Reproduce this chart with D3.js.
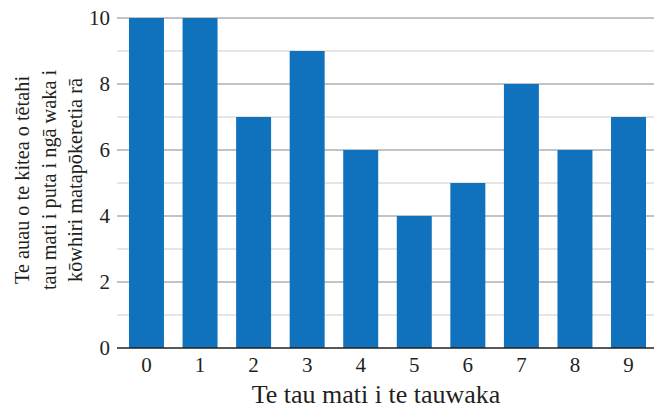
<!DOCTYPE html>
<html><head><meta charset="utf-8">
<script src="https://cdn.jsdelivr.net/npm/d3@7"></script>
<style>body{margin:0;background:#fff}svg{display:block}text{font-family:"Liberation Serif","Times New Roman",serif;fill:#231f20}</style>
</head><body><div id="c"></div>
<script>
const categories = ["0","1","2","3","4","5","6","7","8","9"];
const values = [10,10,7,9,6,4,5,8,6,7];
const yTicks = [0,2,4,6,8,10];
const yMinor = [1,3,5,7,9];
const xTitle = "Te tau mati i te tauwaka";
const yTitle = ["Te auau o te kitea o tētahi","tau mati i puta i ngā waka i","kōwhiri matapōkeretia rā"];

const W=654,H=410;
const svg=d3.select("#c").append("svg").attr("width",W).attr("height",H);
const x=d3.scaleBand().domain(categories).range([119.7,655.3]).paddingInner(0.347).paddingOuter(0.1735);
const y=d3.scaleLinear().domain([0,10]).range([348,18]);
const gx0=117, gx1=654;

svg.append("g").selectAll("line").data(yMinor).join("line")
 .attr("x1",gx0).attr("x2",gx1).attr("y1",d=>y(d)).attr("y2",d=>y(d))
 .attr("stroke","#dcdcde").attr("stroke-width",1.5);
svg.append("g").selectAll("line").data(yTicks.filter(d=>d>0)).join("line")
 .attr("x1",gx0).attr("x2",gx1).attr("y1",d=>y(d)).attr("y2",d=>y(d))
 .attr("stroke","#c3c3c7").attr("stroke-width",2);

svg.append("g").selectAll("rect").data(values).join("rect")
 .attr("x",(d,i)=>x(categories[i])).attr("width",x.bandwidth())
 .attr("y",d=>y(d)).attr("height",d=>y(0)-y(d)).attr("fill","#1072bc");

svg.append("line").attr("x1",gx0).attr("x2",gx1).attr("y1",y(0)).attr("y2",y(0))
 .attr("stroke","#231f20").attr("stroke-width",1.5);

const ya=svg.append("g").attr("transform",`translate(${gx0},0)`)
 .call(d3.axisLeft(y).tickValues(yTicks).tickSize(0).tickPadding(7));
ya.select(".domain").remove();
ya.selectAll("text").attr("font-size",21).attr("font-family","Liberation Serif").attr("fill","#231f20");

const xa=svg.append("g").attr("transform",`translate(0,${y(0)})`)
 .call(d3.axisBottom(x).tickSize(0).tickPadding(9));
xa.select(".domain").remove();
xa.selectAll("text").attr("font-size",21).attr("font-family","Liberation Serif").attr("fill","#231f20");

svg.append("text").attr("x",376).attr("y",403).attr("text-anchor","middle")
 .attr("font-size",26).text(xTitle);

const yt=svg.append("text").attr("transform","translate(29,180) rotate(-90)")
 .attr("text-anchor","middle").attr("font-size",20.3);
yTitle.forEach((t,i)=>yt.append("tspan").attr("x",0).attr("dy",i?26.5:0).text(t));
</script></body></html>
